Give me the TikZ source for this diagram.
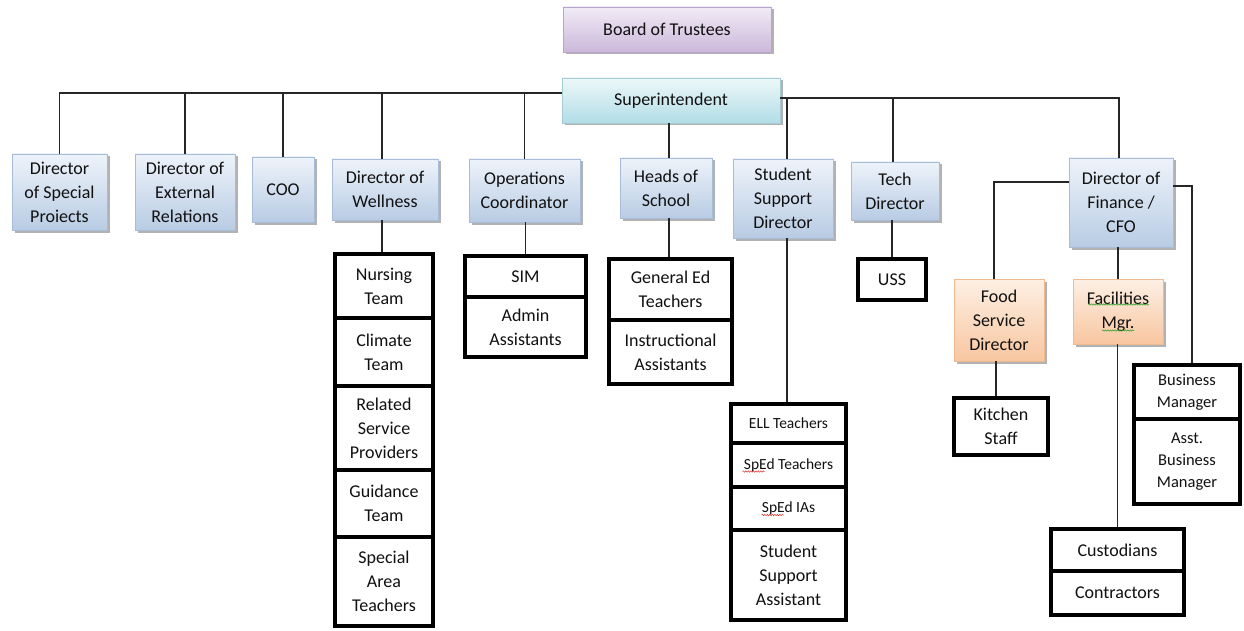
\documentclass[tikz,border=0pt]{standalone}
\usepackage{fontspec}
\setmainfont{Carlito}
\usetikzlibrary{shadows,decorations.pathmorphing}
\definecolor{txt}{HTML}{111111}
\definecolor{bluetop}{HTML}{EEF3FA}
\definecolor{bluebot}{HTML}{B8CCE4}
\definecolor{bluebd}{HTML}{A7BCD9}
\definecolor{purpletop}{HTML}{F1EBF6}
\definecolor{purplebot}{HTML}{CBB8DA}
\definecolor{purplebd}{HTML}{B9A5CC}
\definecolor{cyantop}{HTML}{EDF8FA}
\definecolor{cyanbot}{HTML}{B2DDE6}
\definecolor{cyanbd}{HTML}{A5CCD6}
\definecolor{orangetop}{HTML}{FDF0E4}
\definecolor{orangebot}{HTML}{F8C6A0}
\definecolor{orangebd}{HTML}{F0BA90}
\definecolor{wred}{HTML}{E03030}
\definecolor{wgreen}{HTML}{30A030}
\begin{document}
\begin{tikzpicture}[x=1pt,y=-1pt,
  base/.style={rectangle, inner sep=1pt, align=center, text=txt, font=\fontsize{18}{24}\selectfont},
  grad/.style={base, draw=#1, line width=0.8pt, drop shadow={shadow xshift=2.5pt, shadow yshift=-2.5pt, fill=black, opacity=0.3}},
  bluebox/.style={grad=bluebd, top color=bluetop, bottom color=bluebot},
  purplebox/.style={grad=purplebd, top color=purpletop, bottom color=purplebot},
  cyanbox/.style={grad=cyanbd, top color=cyantop, bottom color=cyanbot},
  orangebox/.style={grad=orangebd, top color=orangetop, bottom color=orangebot},
  thickbox/.style={base, draw=black, line width=4pt, fill=white},
  smalltext/.style={font=\fontsize{15.5}{20}\selectfont},
  midtext/.style={font=\fontsize{16.5}{22}\selectfont},
  conn/.style={draw=black!85, line width=1.1pt},
  wave/.style={decorate, decoration={snake, amplitude=0.7pt, segment length=2.5pt}, line width=0.5pt}
]
\useasboundingbox (0,0) rectangle (1244,631);

% top level
\node[purplebox, minimum width=208pt, minimum height=45pt] (bot) at (667,29.5) {Board of Trustees};
\node[cyanbox, minimum width=218pt, minimum height=45pt] (sup) at (671,100.5) {Superintendent};

% second level
\node[bluebox, minimum width=95pt, minimum height=76pt] (dsp) at (59.5,192) {Director\\of Special\\Proiects};
\node[bluebox, minimum width=100pt, minimum height=76pt] (der) at (185,192) {Director of\\External\\Relations};
\node[bluebox, minimum width=62pt, minimum height=65pt] (coo) at (283,189.5) {COO};
\node[bluebox, minimum width=106pt, minimum height=61pt] (dow) at (385,189.5) {Director of\\Wellness};
\node[bluebox, minimum width=111pt, minimum height=63pt] (opc) at (524.5,190.5) {Operations\\Coordinator};
\node[bluebox, minimum width=92pt, minimum height=60pt] (hos) at (666,188) {Heads of\\School};
\node[bluebox, minimum width=100pt, minimum height=79pt] (ssd) at (783,198.5) {Student\\Support\\Director};
\node[bluebox, minimum width=88pt, minimum height=58pt] (tec) at (895,191) {Tech\\Director};
\node[bluebox, minimum width=104pt, minimum height=89pt] (fin) at (1121,202.5) {Director of\\Finance /\\CFO};
\node[orangebox, minimum width=90pt, minimum height=82pt] (fsd) at (999,320) {Food\\Service\\Director};
\node[orangebox, minimum width=90pt, minimum height=65pt] (fac) at (1118,311.5) {Facilities\\Mgr.};

% wellness column
\node[thickbox, minimum width=98pt, minimum height=64pt] (nur) at (384,286) {Nursing\\Team};
\node[thickbox, minimum width=98pt, minimum height=68pt] (cli) at (384,352) {Climate\\Team};
\node[thickbox, minimum width=98pt, minimum height=84pt] (rel) at (384,428) {Related\\Service\\Providers};
\node[thickbox, minimum width=98pt, minimum height=67pt] (gui) at (384,503.5) {Guidance\\Team};
\node[thickbox, minimum width=98pt, minimum height=89pt] (spa) at (384,581.5) {Special\\Area\\Teachers};

% operations column
\node[thickbox, minimum width=121pt, minimum height=41pt] (sim) at (525.5,276.5) {SIM};
\node[thickbox, minimum width=121pt, minimum height=60pt] (adm) at (525.5,327) {Admin\\Assistants};

% heads column
\node[thickbox, minimum width=123pt, minimum height=61pt] (ged) at (670.5,289.5) {General Ed\\Teachers};
\node[thickbox, minimum width=123pt, minimum height=64pt] (ins) at (670.5,352) {Instructional\\Assistants};

% student support column
\node[thickbox, smalltext, minimum width=115pt, minimum height=39pt] (ell) at (788.5,423.5) {ELL Teachers};
\node[thickbox, smalltext, minimum width=115pt, minimum height=44pt] (spt) at (788.5,465) {SpEd Teachers};
\node[thickbox, smalltext, minimum width=115pt, minimum height=43pt] (spi) at (788.5,508.5) {SpEd IAs};
\node[thickbox, minimum width=115pt, minimum height=90pt] (ssa) at (788.5,575) {Student\\Support\\Assistant};

% tech
\node[thickbox, minimum width=68pt, minimum height=41pt] (uss) at (892,279.5) {USS};

% food service
\node[thickbox, minimum width=94pt, minimum height=57pt] (kit) at (1001,426.5) {Kitchen\\Staff};

% facilities
\node[thickbox, minimum width=133pt, minimum height=42pt] (cus) at (1117.5,550) {Custodians};
\node[thickbox, minimum width=133pt, minimum height=44pt] (con) at (1117.5,593) {Contractors};

% business
\node[thickbox, midtext, minimum width=106pt, minimum height=54pt] (bsm) at (1187,392) {Business\\Manager};
\node[thickbox, midtext, minimum width=106pt, minimum height=85pt] (abm) at (1187,461.5) {Asst.\\Business\\Manager};

% connectors from superintendent
\coordinate (hl) at ([yshift=7.5pt]sup.west);
\coordinate (hr) at ([yshift=2.5pt]sup.east);
\coordinate (dowtop) at ([xshift=-3pt]dow.north);
\coordinate (hostop) at ([xshift=3pt]hos.north);
\coordinate (ssdtop) at ([xshift=4pt]ssd.north);
\coordinate (tectop) at ([xshift=-2pt]tec.north);
\coordinate (fintop) at ([xshift=-2pt]fin.north);
\draw[conn] (hl) -| (dsp.north);
\draw[conn] (hl) -| (der.north);
\draw[conn] (hl) -| (coo.north);
\draw[conn] (hl) -| (dowtop);
\draw[conn] (hl) -| (opc.north);
\draw[conn] (hostop) -- (hostop |- sup.south);
\draw[conn] (hr) -| (ssdtop);
\draw[conn] (hr) -| (tectop);
\draw[conn] (hr) -| (fintop);

% column connectors
\coordinate (nurtop) at ([xshift=-2pt]nur.north);
\coordinate (gedtop) at ([xshift=-1.5pt]ged.north);
\coordinate (elltop) at ([xshift=-1.5pt]ell.north);
\coordinate (kittop) at ([xshift=-5pt]kit.north);
\coordinate (fsdtop) at ([xshift=-5pt]fsd.north);
\coordinate (bsmtop) at ([xshift=5pt]bsm.north);
\draw[conn] (nurtop) -- (nurtop |- dow.south);
\draw[conn] (sim.north) -- (sim.north |- opc.south);
\draw[conn] (gedtop) -- (gedtop |- hos.south);
\draw[conn] (elltop) -- (elltop |- ssd.south);
\draw[conn] (uss.north) -- (uss.north |- tec.south);
\draw[conn] (kittop) -- (kittop |- fsd.south);
\draw[conn] ([yshift=20.5pt]fin.west) -| (fsdtop);
\draw[conn] ([yshift=16.5pt]fin.east) -| (bsmtop);
\draw[conn] (fac.north) -- (fac.north |- fin.south);
\draw[conn] (cus.north) -- (cus.north |- fac.south);

% spell-check wavy underlines
\draw[wave, draw=wred] ([xshift=-46pt,yshift=-6.5pt]spt.center) -- ([xshift=-24pt,yshift=-6.5pt]spt.center);
\draw[wave, draw=wred] ([xshift=-27pt,yshift=-6.5pt]spi.center) -- ([xshift=-5pt,yshift=-6.5pt]spi.center);
\draw[wave, draw=wgreen] ([xshift=-30pt,yshift=7pt]fac.center) -- ([xshift=31pt,yshift=7pt]fac.center);
\draw[wave, draw=wgreen] ([xshift=-16pt,yshift=-19pt]fac.center) -- ([xshift=16pt,yshift=-19pt]fac.center);
\end{tikzpicture}
\end{document}
